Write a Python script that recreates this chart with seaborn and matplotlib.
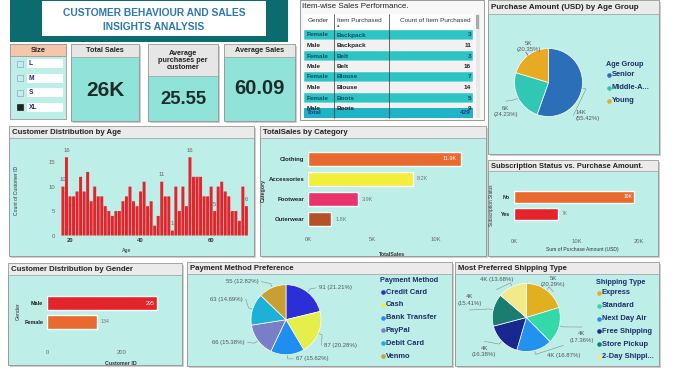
import numpy as np
import pandas as pd
import seaborn as sns
import matplotlib.pyplot as plt
from matplotlib.patches import Rectangle
from matplotlib.ticker import FuncFormatter

# ---------------- data ----------------
sizes = ['L', 'M', 'S', 'XL']
selected_size = 'XL'

kpi_titles = ['Total Sales', 'Average\npurchases per\ncustomer', 'Average Sales']
kpi_values = ['26K', '25.55', '60.09']

table_gender = ['Female', 'Male', 'Female', 'Male', 'Female', 'Male', 'Female', 'Male']
table_item = ['Backpack', 'Backpack', 'Belt', 'Belt', 'Blouse', 'Blouse', 'Boots', 'Boots']
table_count = [3, 11, 3, 16, 7, 14, 5, 9]
table_total = 429

age_groups = ['Senior', 'Middle-Aged', 'Young']
age_group_pct = [55.42, 24.23, 20.35]
total_sales_k = 25.8

ages = list(range(18, 71))
age_counts = [10, 16, 8, 8, 9, 12, 9, 13, 7, 10,
              8, 8, 6, 5, 4, 5, 5, 7, 8, 10,
              7, 6, 9, 11, 6, 7, 2, 4, 11, 8,
              8, 1, 10, 5, 10, 6, 16, 12, 12, 12,
              8, 8, 10, 5, 10, 11, 9, 8, 5, 5,
              3, 10, 6]
labelled_ages = [18, 19, 46, 49, 54, 61, 70]

categories = ['Clothing', 'Accessories', 'Footwear', 'Outerwear']
category_sales = [11900, 8200, 3900, 1800]

subscription = ['No', 'Yes']
subscription_sales = [19300, 7000]

genders = ['Male', 'Female']
gender_counts = [295, 134]

payment_methods = ['Credit Card', 'Cash', 'Bank Transfer', 'PayPal', 'Debit Card', 'Venmo']
payment_counts = [91, 87, 67, 66, 63, 55]

shipping_types = ['Express', 'Standard', 'Next Day Air', 'Free Shipping', 'Store Pickup', '2-Day Shipping']
shipping_pct = [20.29, 17.36, 16.87, 16.38, 15.41, 13.68]

# ---------------- style ----------------
sns.set_style('white')
plt.rcParams['font.family'] = ['Liberation Sans', 'DejaVu Sans']

W, H = 690, 371
AQUA = '#bdeee8'
CARD = '#8fe3d9'
TBAR = '#ebebeb'
NAVY = '#1c2d6b'
GREY = '#666666'

fig = plt.figure(figsize=(W / 100, H / 100), dpi=100)
fig.patch.set_facecolor('white')

bg = fig.add_axes([0, 0, 1, 1])
bg.set_xlim(0, W)
bg.set_ylim(H, 0)
bg.axis('off')


def px_axes(x, y, w, h):
    ax = fig.add_axes([x / W, 1 - (y + h) / H, w / W, h / H])
    ax.set_facecolor('none')
    return ax


def panel(x, y, w, h, title, tbar=12, body=AQUA, size=5.6):
    bg.add_patch(Rectangle((x + 1.5, y + 1.5), w, h, color='#cfcfcf', lw=0))
    bg.add_patch(Rectangle((x, y), w, h, facecolor=body, edgecolor='#9a9a9a', lw=0.7))
    bg.add_patch(Rectangle((x, y), w, tbar, facecolor=TBAR, edgecolor='#9a9a9a', lw=0.5))
    bg.text(x + 3, y + tbar / 2 + 0.5, title, fontsize=size, fontweight='bold',
            color='#222222', va='center', ha='left')


def style_bar_axes(ax):
    sns.despine(ax=ax, left=True, bottom=True)
    ax.tick_params(length=0, labelsize=4.2, colors=GREY, pad=2)


def legend_block(x, y, title, labels, colors):
    bg.text(x, y, title, fontsize=5.2, fontweight='bold', color=NAVY, va='center')
    for i, (lab, col) in enumerate(zip(labels, colors)):
        yy = y + 11 + i * 12.8
        bg.plot(x + 2.5, yy, 'o', ms=3.3, color=col, mec='none')
        bg.text(x + 5.5, yy, lab, fontsize=5.4, fontweight='bold', color=NAVY, va='center')


def pie_block(cx, cy, r, values, colors, texts, spots, aligns):
    ax = px_axes(cx - 2 * r, cy - 2 * r, 4 * r, 4 * r)
    ax.pie(values, colors=colors, startangle=90, counterclock=False,
           wedgeprops=dict(edgecolor='white', linewidth=0.5))
    ax.set_xlim(-2, 2)
    ax.set_ylim(-2, 2)
    ax.axis('off')
    vals = np.array(values, dtype=float)
    mids = 90 - 360 * (np.cumsum(vals) - vals / 2) / vals.sum()
    for a, t, (lx, ly), ha in zip(mids, texts, spots, aligns):
        ex, ey = np.cos(np.radians(a)), np.sin(np.radians(a))
        if ha == 'left':
            end = (lx - 0.08, ly)
        elif ha == 'right':
            end = (lx + 0.08, ly)
        else:
            end = (lx, ly + (0.3 if ly < 0 else -0.3))
        ax.plot([ex * 1.02, ex * 1.12, end[0]], [ey * 1.02, ey * 1.12, end[1]],
                color='#8a8a8a', lw=0.4, clip_on=False)
        ax.text(lx, ly, t, fontsize=4.3, color='#555555', ha=ha, va='center',
                linespacing=1.4, clip_on=False)
    return ax


# ---------------- banner ----------------
bg.add_patch(Rectangle((10, 0), 278, 42, color='#0b6b6e', lw=0))
bg.add_patch(Rectangle((42, 1), 224, 35, color='white', lw=0))
bg.text(154, 13, 'CUSTOMER BEHAVIOUR AND SALES', fontsize=7.4, fontweight='bold',
        color='#2b77b3', ha='center', va='center')
bg.text(154, 27, 'INSIGHTS ANALYSIS', fontsize=7.4, fontweight='bold',
        color='#2b77b3', ha='center', va='center')

# ---------------- size slicer ----------------
bg.add_patch(Rectangle((10, 44), 56, 75, facecolor=AQUA, edgecolor='#9a9a9a', lw=0.6))
bg.add_patch(Rectangle((10, 44), 56, 12, facecolor='#f5c6a9', edgecolor='#9a9a9a', lw=0.6))
bg.text(38, 50.5, 'Size', fontsize=5.4, fontweight='bold', color='#222222', ha='center', va='center')
for i, s in enumerate(sizes):
    yy = 63.5 + i * 14.6
    filled = s == selected_size
    bg.add_patch(Rectangle((17, yy - 3), 6, 6, facecolor='#222222' if filled else '#c9ece8',
                           edgecolor='#8ab' if not filled else '#222222', lw=0.5))
    bg.add_patch(Rectangle((27, yy - 4.5), 36, 9, facecolor='white', lw=0))
    bg.text(28.5, yy, s, fontsize=4.8, fontweight='bold', color='#2a2a8a', va='center')

# ---------------- KPI cards ----------------
cards = [(71, 68, 12.5, 91, 15), (148, 70, 32, 99, 13.2), (224, 71, 13, 89, 14.5)]
for (x, w, hh, vy, fs), title, val in zip(cards, kpi_titles, kpi_values):
    bg.add_patch(Rectangle((x + 1.5, 45.5), w, 77, color='#cfcfcf', lw=0))
    bg.add_patch(Rectangle((x, 44), w, 77, facecolor=CARD, edgecolor='#9a9a9a', lw=0.7))
    bg.add_patch(Rectangle((x, 44), w, hh, facecolor='#e6e6e6', edgecolor='#9a9a9a', lw=0.5))
    bg.text(x + w / 2, 44 + hh / 2 + 0.5, title, fontsize=5.2, fontweight='bold',
            color='#222222', ha='center', va='center', linespacing=1.05)
    bg.text(x + w / 2, vy, val, fontsize=fs, fontweight='bold', color='#1f2b2b',
            ha='center', va='center')

# ---------------- table ----------------
bg.add_patch(Rectangle((300, 0), 184, 120, facecolor='#f7f7f7', edgecolor='#9a9a9a', lw=0.7))
bg.text(302, 7, 'Item-wise Sales Performance.', fontsize=5.8, color='#222222', va='center')
cols = [304, 334, 389, 473]
bg.add_patch(Rectangle((304, 14), 169, 15, facecolor='white', lw=0))
bg.text(308, 20.5, 'Gender', fontsize=4.6, color='#333333', va='center')
bg.text(337, 20.5, 'Item Purchased', fontsize=4.6, color='#333333', va='center')
bg.text(337, 26, '\u25b4', fontsize=3.5, color='#555555', va='center')
bg.text(471, 20.5, 'Count of Item Purchased', fontsize=4.6, color='#333333', va='center', ha='right')
for i, (g, it, c) in enumerate(zip(table_gender, table_item, table_count)):
    top = 29.5 + i * 10.5
    fem = g == 'Female'
    bg.add_patch(Rectangle((304, top), 169, 10.5, facecolor='#2ec4c4' if fem else '#f1f1f1',
                           edgecolor='white', lw=0.3))
    tc = '#0d4f63' if fem else '#222222'
    bg.text(307, top + 5.5, g, fontsize=4.6, fontweight='bold', color=tc, va='center')
    bg.text(337, top + 5.5, it, fontsize=4.6, fontweight='bold', color=tc, va='center')
    bg.text(471, top + 5.5, str(c), fontsize=4.6, fontweight='bold', color=tc, va='center', ha='right')
bg.add_patch(Rectangle((304, 107.5), 169, 10.5, facecolor='#1fb3c6', lw=0))
bg.text(307, 113, 'Total', fontsize=4.6, fontweight='bold', color='#1d3c8c', va='center')
bg.text(471, 113, str(table_total), fontsize=4.6, fontweight='bold', color='#1d3c8c', va='center', ha='right')
for cx in cols[1:3]:
    bg.plot([cx, cx], [14, 118], color='#333333', lw=0.5)
bg.add_patch(Rectangle((475.5, 14), 4, 104, color='#e8e8e8', lw=0))
bg.add_patch(Rectangle((475.8, 15), 3.4, 14, color='#a9a9a9', lw=0))

# ---------------- purchase amount by age group (pie) ----------------
panel(488, 0, 171, 154, 'Purchase Amount (USD) by Age Group', tbar=13.5, size=5.8)
age_colors = ['#2a6fb8', '#31c7b5', '#e8a923']
age_texts = [f'{round(p / 100 * total_sales_k)}K\n({p:.2f}%)' for p in age_group_pct]
pie_block(548.5, 82.5, 34, age_group_pct, age_colors, age_texts,
          [(0.81, -0.97), (-1.26, -0.85), (-0.59, 1.06)], ['left', 'center', 'center'])
legend_block(606, 64, 'Age Group', ['Senior', 'Middle-A...', 'Young'], age_colors)

# ---------------- customer distribution by age ----------------
panel(9, 126, 245, 130, 'Customer Distribution by Age')
age_df = pd.DataFrame({'Age': ages, 'Count': age_counts})
ax = px_axes(58, 146, 193, 89.5)
sns.barplot(data=age_df, x='Age', y='Count', native_scale=True, color='#e3242b',
            saturation=1, width=0.84, linewidth=0, ax=ax)
for p in ax.patches:
    p.set_snap(False)
ax.set_xlim(16.6, 71.3)
ax.set_ylim(0, 18.3)
ax.set_xticks([20, 40, 60])
ax.set_yticks([0, 5, 10, 15])
style_bar_axes(ax)
ax.tick_params(axis='x', labelcolor='#333333')
for lbl in ax.get_xticklabels():
    lbl.set_fontweight('bold')
ax.set_xlabel('Age', fontsize=3.8, color='#333333')
ax.set_ylabel('Count of Customer ID', fontsize=3.6, color='#333333')
ax.xaxis.set_label_coords(0.355, -0.14)
ax.yaxis.set_label_coords(-0.2, 0.5)
for a, c in zip(ages, age_counts):
    if a in labelled_ages:
        ax.text(a, c + 0.9, str(c), ha='center', va='bottom', fontsize=4.2, color=GREY)

# ---------------- total sales by category ----------------
panel(260, 126, 226, 130, 'TotalSales by Category')
cat_df = pd.DataFrame({'Category': categories, 'TotalSales': category_sales})
ax = px_axes(308.3, 146, 168, 88)
sns.barplot(data=cat_df, y='Category', x='TotalSales', hue='Category', orient='h',
            palette=['#e96a2e', '#f1ee3c', '#e8346a', '#b4522a'], saturation=1,
            width=0.7, legend=False, ax=ax)
ax.set_xlim(0, 13130)
ax.set_ylim(3.73, -0.63)
ax.set_xticks([0, 5000, 10000])
ax.xaxis.set_major_formatter(FuncFormatter(lambda v, p: f'{v / 1000:.0f}K'))
style_bar_axes(ax)
ax.tick_params(axis='y', labelsize=4.3, labelcolor='#222222', pad=3)
for lbl in ax.get_yticklabels():
    lbl.set_fontweight('bold')
ax.set_xlabel('TotalSales', fontsize=3.8, fontweight='bold', color='#333333')
ax.set_ylabel('Category', fontsize=3.8, fontweight='bold', color='#333333')
ax.xaxis.set_label_coords(0.5, -0.2)
ax.yaxis.set_label_coords(-0.255, 0.5)
for i, v in enumerate(category_sales):
    if i == 0:
        ax.text(v - 300, i, f'{v / 1000:.1f}K', ha='right', va='center', fontsize=4, color='white')
    else:
        ax.text(v + 300, i, f'{v / 1000:.1f}K', ha='left', va='center', fontsize=4, color='#777777')

# ---------------- subscription ----------------
panel(488, 160, 170, 96, 'Subscription Status vs. Purchase Amount.', tbar=11, size=5.4)
sub_df = pd.DataFrame({'Status': subscription, 'Amount': subscription_sales})
ax = px_axes(514.3, 186, 136, 50)
sns.barplot(data=sub_df, y='Status', x='Amount', hue='Status', orient='h',
            palette=['#e96a2e', '#e3242b'], saturation=1, width=0.7, legend=False, ax=ax)
ax.set_xlim(0, 21900)
ax.set_ylim(2.3, -0.63)
ax.set_xticks([0, 10000, 20000])
ax.xaxis.set_major_formatter(FuncFormatter(lambda v, p: f'{v / 1000:.0f}K'))
style_bar_axes(ax)
ax.tick_params(axis='y', labelsize=3.8, labelcolor='#222222', pad=3)
for lbl in ax.get_yticklabels():
    lbl.set_fontweight('bold')
ax.set_xlabel('Sum of Purchase Amount (USD)', fontsize=3.6, color='#333333')
ax.set_ylabel('Subscription Status', fontsize=3.4, color='#333333')
ax.xaxis.set_label_coords(0.5, -0.22)
ax.yaxis.set_label_coords(-0.15, 0.62)
for i, v in enumerate(subscription_sales):
    if i == 0:
        ax.text(v - 300, i, f'{v / 1000:.0f}K', ha='right', va='center', fontsize=3.6, color='white')
    else:
        ax.text(v + 600, i, f'{v / 1000:.0f}K', ha='left', va='center', fontsize=3.6, color='#777777')

# ---------------- customer distribution by gender ----------------
panel(8, 263, 174, 102, 'Customer Distribution by Gender', tbar=11.5)
gen_df = pd.DataFrame({'Gender': genders, 'Customer ID': gender_counts})
ax = px_axes(47.3, 289, 133, 58)
sns.barplot(data=gen_df, y='Gender', x='Customer ID', hue='Gender', orient='h',
            palette=['#e3242b', '#e96a2e'], saturation=1, width=0.74, legend=False, ax=ax)
ax.set_xlim(0, 358)
ax.set_ylim(2.32, -0.74)
ax.set_xticks([0, 200])
style_bar_axes(ax)
ax.tick_params(axis='y', labelsize=4.0, labelcolor='#222222', pad=3)
for lbl in ax.get_yticklabels():
    lbl.set_fontweight('bold')
ax.set_xlabel('Customer ID', fontsize=3.8, fontweight='bold', color='#333333')
ax.set_ylabel('Gender', fontsize=3.8, color='#333333')
ax.xaxis.set_label_coords(0.55, -0.24)
ax.yaxis.set_label_coords(-0.2, 0.62)
for i, v in enumerate(gender_counts):
    if i == 0:
        ax.text(v - 5, i, str(v), ha='right', va='center', fontsize=3.8, color='white')
    else:
        ax.text(v + 8, i, str(v), ha='left', va='center', fontsize=3.8, color='#777777')

# ---------------- payment method ----------------
panel(187, 262, 265, 104, 'Payment Method Preference', tbar=11.5)
pay_colors = ['#2d2fd6', '#e6ee4a', '#1e8ff0', '#7a7ec6', '#1cb1d6', '#c99f33']
pay_total = sum(payment_counts)
pay_texts = [f'{c} ({c / pay_total * 100:.2f}%)' for c in payment_counts]
pie_block(286, 319.7, 35, payment_counts, pay_colors, pay_texts,
          [(0.94, 0.91), (1.09, -0.74), (0.29, -1.12), (-1.18, -0.65), (-1.23, 0.59), (-0.79, 1.09)],
          ['left', 'left', 'left', 'right', 'right', 'right'])
legend_block(380, 281, 'Payment Method', payment_methods, pay_colors)

# ---------------- shipping type ----------------
panel(455, 262, 204, 104, 'Most Preferred Shipping Type', tbar=11.5)
ship_colors = ['#e0b021', '#34d9a9', '#2292ef', '#19288f', '#1a7d70', '#f2e98a']
ship_texts = [f'{round(p / 100 * total_sales_k)}K\n({p:.2f}%)' for p in shipping_pct]
ship_texts[2] = ship_texts[2].replace('\n', ' ')
ship_texts[5] = ship_texts[5].replace('\n', ' ')
pie_block(526.3, 317.5, 34, shipping_pct, ship_colors, ship_texts,
          [(0.79, 1.06), (1.63, -0.58), (1.09, -1.12), (-1.24, -1.0), (-1.67, 0.52), (-0.88, 1.12)],
          ['center', 'center', 'center', 'center', 'center', 'center'])
legend_block(596, 282, 'Shipping Type',
             ['Express', 'Standard', 'Next Day Air', 'Free Shipping', 'Store Pickup', '2-Day Shippi...'],
             ship_colors)

fig.savefig('out.png', dpi=100)
